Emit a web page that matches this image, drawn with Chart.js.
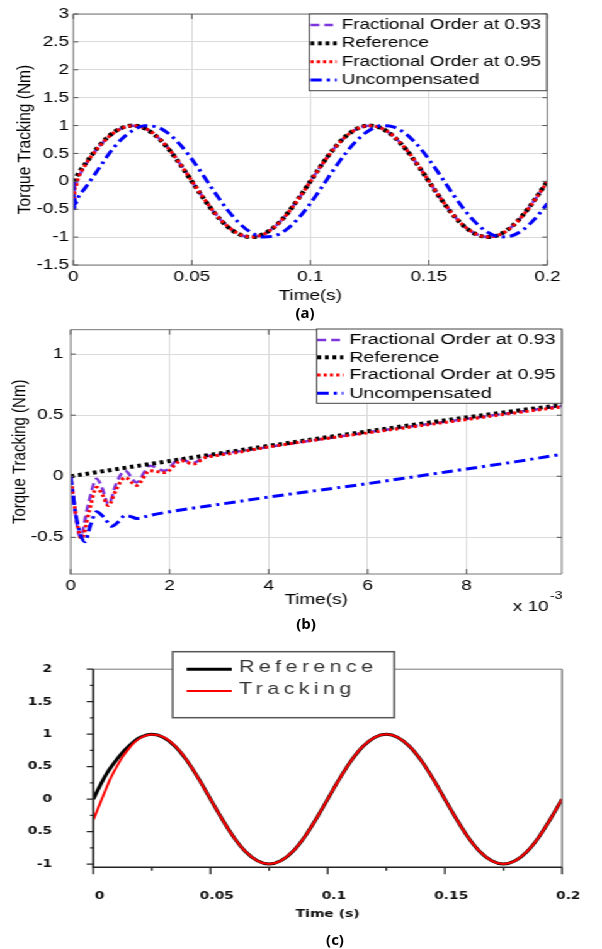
<!DOCTYPE html>
<html>
<head>
<meta charset="utf-8">
<script src="https://cdn.jsdelivr.net/npm/chart.js@4.4.0/dist/chart.umd.min.js"></script>
<style>
  html, body { margin: 0; padding: 0; background: #fff; }
  body { width: 602px; height: 949px; position: relative; overflow: hidden; }
  /* the source figure is stretched sideways, so draw narrow and widen */
  #stretch { position: absolute; left: 0; top: 0; width: 478px; height: 949px; transform: scaleX(1.2594); transform-origin: 0 0; }
  #stretch canvas { position: absolute; left: 0; }
  .cap { position: absolute; font-family: "Open Sans", "Liberation Sans", sans-serif; font-weight: 700; font-size: 15px; color: #000; transform: translate(-50%, -50%); }
</style>
</head>
<body>
<div id="stretch">
  <canvas id="chartA" width="478" height="310" style="top:0"></canvas>
  <canvas id="chartB" width="478" height="300" style="top:315px"></canvas>
  <canvas id="chartC" width="478" height="300" style="top:630px"></canvas>
</div>
<div class="cap" style="left:305px;top:312px">(a)</div>
<div class="cap" style="left:306px;top:623px">(b)</div>
<div class="cap" style="left:335px;top:939px">(c)</div>
<script>
// ---- (a) full run, time in s ----
const tA = [0, 0.0003, 0.0006, 0.001, 0.002, 0.005, 0.01, 0.015, 0.02, 0.025, 0.03, 0.035, 0.04, 0.045, 0.05,
  0.055, 0.06, 0.065, 0.07, 0.075, 0.08, 0.085, 0.09, 0.095, 0.1, 0.105, 0.11, 0.115, 0.12, 0.125, 0.13,
  0.135, 0.14, 0.145, 0.15, 0.155, 0.16, 0.165, 0.17, 0.175, 0.18, 0.185, 0.19, 0.195, 0.2];
const fo93A = [0, -0.5, -0.02, -0.05, 0.05, 0.29, 0.58, 0.8, 0.945, 0.998, 0.955, 0.815, 0.595, 0.315, 0.005,
  -0.305, -0.585, -0.805, -0.948, -0.998, -0.953, -0.813, -0.593, -0.313, -0.003, 0.307, 0.587, 0.807, 0.948, 0.998,
  0.953, 0.813, 0.593, 0.313, 0.003, -0.307, -0.587, -0.807, -0.948, -0.998, -0.953, -0.813, -0.593, -0.313, -0.003];
const refA = [0, 0.02, 0.04, 0.06, 0.13, 0.31, 0.59, 0.81, 0.95, 1, 0.95, 0.81, 0.59, 0.31, 0,
  -0.31, -0.59, -0.81, -0.95, -1, -0.95, -0.81, -0.59, -0.31, 0, 0.31, 0.59, 0.81, 0.95, 1,
  0.95, 0.81, 0.59, 0.31, 0, -0.31, -0.59, -0.81, -0.95, -1, -0.95, -0.81, -0.59, -0.31, 0];
const fo95A = [0, -0.48, -0.1, -0.1, 0.05, 0.29, 0.575, 0.8, 0.943, 0.997, 0.957, 0.818, 0.598, 0.318, 0.008,
  -0.302, -0.582, -0.802, -0.946, -0.997, -0.955, -0.816, -0.596, -0.316, -0.006, 0.304, 0.584, 0.804, 0.946, 0.997,
  0.955, 0.816, 0.596, 0.316, 0.006, -0.304, -0.584, -0.804, -0.946, -0.997, -0.955, -0.816, -0.596, -0.316, -0.006];
const uncA = [0, -0.53, -0.32, -0.4, -0.29, -0.12, 0.18, 0.49, 0.74, 0.91, 0.995, 0.978, 0.862, 0.662, 0.398,
  0.095, -0.218, -0.509, -0.75, -0.917, -0.996, -0.976, -0.861, -0.661, -0.397, -0.094, 0.218, 0.509, 0.75, 0.917,
  0.996, 0.976, 0.861, 0.661, 0.397, 0.094, -0.218, -0.509, -0.75, -0.917, -0.996, -0.976, -0.861, -0.661, -0.397];
const xTicksA = [0, 0.05, 0.1, 0.15, 0.2];
const xLabelsA = ['0', '0.05', '0.1', '0.15', '0.2'];
const yTicksA = [-1.5, -1, -0.5, 0, 0.5, 1, 1.5, 2, 2.5, 3];
const yLabelsA = ['-1.5', '-1', '-0.5', '0', '0.5', '1', '1.5', '2', '2.5', '3'];

// ---- (b) first 10 ms, time in units of 1e-3 s ----
const fo93Bt = [0, 0.1, 0.19, 0.36, 0.525, 0.64, 0.76, 0.93, 1.1, 1.33, 1.6, 1.9, 2.2, 2.48, 2.7, 3, 3.5, 4, 5, 6, 7, 8, 9, 9.92];
const fo93B = [0, -0.32, -0.5, -0.22, -0.02, -0.1, -0.23, -0.05, 0.046, -0.05, 0.087, 0.046, 0.14, 0.11, 0.16, 0.18, 0.21, 0.24, 0.3, 0.36, 0.415, 0.47, 0.525, 0.575];
const refBt = [0, 1, 2, 3, 4, 5, 6, 7, 8, 9, 9.92];
const refB = [0, 0.063, 0.125, 0.187, 0.249, 0.309, 0.368, 0.426, 0.482, 0.536, 0.584];
const fo95Bt = [0, 0.1, 0.22, 0.38, 0.525, 0.64, 0.76, 0.93, 1.1, 1.33, 1.6, 1.9, 2.24, 2.48, 2.7, 2.92, 3.3, 3.93, 5, 6, 7, 8, 9, 9.92];
const fo95B = [0, -0.3, -0.51, -0.28, -0.09, -0.15, -0.24, -0.1, -0.01, -0.075, 0.046, 0.03, 0.127, 0.1, 0.15, 0.168, 0.19, 0.235, 0.3, 0.355, 0.41, 0.465, 0.52, 0.568];
const uncBt = [0, 0.12, 0.29, 0.4, 0.525, 0.68, 0.83, 0.97, 1.1, 1.22, 1.33, 1.6, 2, 3, 4, 5, 6, 7, 8, 9, 9.92];
const uncB = [0, -0.35, -0.535, -0.4, -0.29, -0.34, -0.41, -0.37, -0.32, -0.33, -0.345, -0.32, -0.29, -0.23, -0.17, -0.115, -0.06, 0, 0.06, 0.12, 0.18];
const xTicksB = [0, 2, 4, 6, 8];
const xLabelsB = ['0', '2', '4', '6', '8'];
const yTicksB = [-0.5, 0, 0.5, 1];
const yLabelsB = ['-0.5', '0', '0.5', '1'];

// ---- (c) reference vs tracking ----
const tC = [0, 0.0025, 0.005, 0.0075, 0.01, 0.0125, 0.015, 0.0175, 0.02, 0.025, 0.03, 0.035, 0.04, 0.045, 0.05,
  0.055, 0.06, 0.065, 0.07, 0.075, 0.08, 0.085, 0.09, 0.095, 0.1, 0.105, 0.11, 0.115, 0.12, 0.125, 0.13,
  0.135, 0.14, 0.145, 0.15, 0.155, 0.16, 0.165, 0.17, 0.175, 0.18, 0.185, 0.19, 0.195, 0.2];
const refC = [0, 0.18, 0.35, 0.49, 0.61, 0.72, 0.81, 0.89, 0.95, 1, 0.95, 0.81, 0.59, 0.31, 0,
  -0.31, -0.59, -0.81, -0.95, -1, -0.95, -0.81, -0.59, -0.31, 0, 0.31, 0.59, 0.81, 0.95, 1,
  0.95, 0.81, 0.59, 0.31, 0, -0.31, -0.59, -0.81, -0.95, -1, -0.95, -0.81, -0.59, -0.31, 0];
const trackC = [-0.32, -0.1, 0.12, 0.33, 0.5, 0.65, 0.77, 0.87, 0.94, 0.995, 0.955, 0.815, 0.595, 0.31, 0,
  -0.31, -0.59, -0.81, -0.95, -1, -0.95, -0.81, -0.59, -0.31, 0, 0.31, 0.59, 0.81, 0.95, 1,
  0.95, 0.81, 0.59, 0.31, 0, -0.31, -0.59, -0.81, -0.95, -1, -0.95, -0.81, -0.59, -0.31, 0];
const xTicksC = [0, 0.05, 0.1, 0.15, 0.2];
const xLabelsC = ['0', '0.05', '0.1', '0.15', '0.2'];
const xMinorC = [0.025, 0.075, 0.125, 0.175];
const yTicksC = [-1, -0.5, 0, 0.5, 1, 1.5, 2];
const yLabelsC = ['-1', '0.5', '0', '0.5', '1', '1.5', '2'];
const yMinorC = [-0.75, -0.25, 0.25, 0.75, 1.25, 1.75];

const SANS = '"Liberation Sans", Arial, Helvetica, sans-serif';
const BOLD = '"DejaVu Sans", Verdana, sans-serif';

function xy(ts, ys) {
  return ts.map((t, i) => ({ x: t, y: ys[i] }));
}

function useTicks(values) {
  return scale => { scale.ticks = values.map(v => ({ value: v })); };
}

// draws axis box / tick marks through the chart's own scales
const frameTicks = {
  id: 'frameTicks',
  afterDraw(chart, args, o) {
    const { ctx, chartArea: a, scales } = chart;
    ctx.save();
    ctx.setLineDash([]);
    (o.sides || []).forEach(s => {
      ctx.strokeStyle = s.color;
      ctx.lineWidth = s.width;
      ctx.beginPath();
      if (s.side === 'top') { ctx.moveTo(a.left, a.top); ctx.lineTo(a.right, a.top); }
      if (s.side === 'bottom') { ctx.moveTo(a.left - 0.5, a.bottom); ctx.lineTo(a.right, a.bottom); }
      if (s.side === 'left') { ctx.moveTo(a.left, a.top); ctx.lineTo(a.left, a.bottom + 0.5); }
      if (s.side === 'right') { ctx.moveTo(a.right, a.top); ctx.lineTo(a.right, a.bottom); }
      ctx.stroke();
    });
    (o.marks || []).forEach(m => {
      const sc = scales[m.axis];
      const dir = m.out ? -1 : 1;
      ctx.strokeStyle = m.color;
      ctx.lineWidth = m.width;
      ctx.beginPath();
      m.values.forEach(v => {
        const p = sc.getPixelForValue(v);
        m.sides.forEach(side => {
          if (side === 'bottom') { ctx.moveTo(p, a.bottom); ctx.lineTo(p, a.bottom - dir * m.len); }
          if (side === 'top') { ctx.moveTo(p, a.top); ctx.lineTo(p, a.top + dir * m.len); }
          if (side === 'left') { ctx.moveTo(a.left, p); ctx.lineTo(a.left + dir * m.len, p); }
          if (side === 'right') { ctx.moveTo(a.right, p); ctx.lineTo(a.right - dir * m.len, p); }
        });
      });
      ctx.stroke();
    });
    (o.notes || []).forEach(n => {
      ctx.font = n.font;
      ctx.fillStyle = n.color || '#000';
      ctx.textBaseline = 'middle';
      ctx.textAlign = 'left';
      ctx.fillText(n.text, n.x, n.y);
    });
    ctx.restore();
  }
};

// legend box drawn inside the plot, like the source figure
const boxLegend = {
  id: 'boxLegend',
  afterDraw(chart, args, o) {
    if (!o.rows) return;
    const ctx = chart.ctx;
    ctx.save();
    ctx.fillStyle = '#fff';
    ctx.fillRect(o.x, o.y, o.w, o.h);
    ctx.strokeStyle = o.borderColor;
    ctx.lineWidth = o.borderWidth;
    ctx.strokeRect(o.x, o.y, o.w, o.h);
    chart.data.datasets.forEach((ds, i) => {
      const y = o.rows[i];
      ctx.beginPath();
      ctx.setLineDash(ds.borderDash || []);
      ctx.strokeStyle = ds.borderColor;
      ctx.lineWidth = ds.borderWidth;
      ctx.moveTo(o.lineFrom, y);
      ctx.lineTo(o.lineTo, y);
      ctx.stroke();
      ctx.setLineDash([]);
      ctx.font = o.font;
      ctx.fillStyle = o.color;
      ctx.textBaseline = 'middle';
      ctx.letterSpacing = o.letterSpacing || '0px';
      ctx.fillText(ds.label, o.textX, y + (o.textDy || 0));
    });
    ctx.restore();
  }
};

Chart.register(frameTicks, boxLegend);

function matlabScales(cfg) {
  return {
    x: {
      type: 'linear', min: cfg.xMin, max: cfg.xMax,
      afterBuildTicks: useTicks(cfg.xTicks),
      afterFit: s => { s.height = cfg.xHeight; },
      grid: { color: '#dadada', lineWidth: 1, drawTicks: false },
      border: { display: false },
      ticks: { font: { family: SANS, size: 15 }, color: '#000', padding: 3, maxRotation: 0, autoSkip: false,
        callback: (v, i) => cfg.xLabels[i] },
      title: { display: true, text: 'Time(s)', color: '#000', font: { family: SANS, size: 15 },
        padding: { top: 0, bottom: cfg.xTitlePad } }
    },
    y: {
      type: 'linear', min: cfg.yMin, max: cfg.yMax,
      afterBuildTicks: useTicks(cfg.yTicks),
      afterFit: s => { s.width = cfg.yWidth; },
      grid: { color: '#dadada', lineWidth: 1, drawTicks: false },
      border: { display: false },
      ticks: { font: { family: SANS, size: 15 }, color: '#000', padding: cfg.yPad, autoSkip: false,
        callback: (v, i) => cfg.yLabels[i] },
      title: { display: true, text: 'Torque Tracking (Nm)', color: '#000', font: { family: SANS, size: cfg.yTitleSize },
        padding: { top: cfg.yTitlePad, bottom: 0 } }
    }
  };
}

function matlabSets(d) {
  return [
    { label: 'Fractional Order at 0.93', data: d[0], borderColor: '#7d35dc', borderWidth: 2.5, borderDash: [7, 4], order: 4 },
    { label: 'Reference', data: d[1], borderColor: '#000', borderWidth: 4, borderDash: [3, 3], order: 3 },
    { label: 'Fractional Order at 0.95', data: d[2], borderColor: '#ff0000', borderWidth: 3, borderDash: [2.5, 2.5], order: 2 },
    { label: 'Uncompensated', data: d[3], borderColor: '#0000ff', borderWidth: 3, borderDash: [9, 4, 2.5, 4], order: 1 }
  ];
}

const common = {
  responsive: false,
  animation: false,
  devicePixelRatio: 1,
  elements: { point: { radius: 0 }, line: { cubicInterpolationMode: 'monotone', fill: false } }
};

function boxSides(color) {
  return ['top', 'bottom', 'left', 'right'].map(side => ({ side, color, width: 1 }));
}

new Chart(document.getElementById('chartA'), {
  type: 'line',
  data: { datasets: matlabSets([xy(tA, fo93A), xy(tA, refA), xy(tA, fo95A), xy(tA, uncA)]) },
  options: {
    ...common,
    layout: { padding: { left: 0, top: 14, right: 43.4, bottom: 0 } },
    scales: matlabScales({
      xMin: 0, xMax: 0.2, xTicks: xTicksA, xLabels: xLabelsA, xHeight: 45, xTitlePad: 5,
      yMin: -1.5, yMax: 3, yTicks: yTicksA, yLabels: yLabelsA, yWidth: 58.2, yPad: 3.4,
      yTitleSize: 15.5, yTitlePad: 10
    }),
    plugins: {
      legend: { display: false }, tooltip: { enabled: false },
      frameTicks: {
        sides: boxSides('#777'),
        marks: [
          { axis: 'x', values: xTicksA, sides: ['bottom', 'top'], len: 5, color: '#555', width: 1 },
          { axis: 'y', values: yTicksA, sides: ['left', 'right'], len: 4, color: '#555', width: 1 }
        ]
      },
      boxLegend: {
        x: 245.6, y: 14, w: 188.5, h: 76.7, borderColor: '#444', borderWidth: 1,
        rows: [25, 43.3, 61.7, 80], lineFrom: 246.5, lineTo: 267.3, textX: 271.3,
        font: '15px ' + SANS, color: '#000'
      }
    }
  }
});

new Chart(document.getElementById('chartB'), {
  type: 'line',
  data: { datasets: matlabSets([xy(fo93Bt, fo93B), xy(refBt, refB), xy(fo95Bt, fo95B), xy(uncBt, uncB)]) },
  options: {
    ...common,
    layout: { padding: { left: 0, top: 14, right: 32, bottom: 0 } },
    scales: matlabScales({
      xMin: 0, xMax: 9.92, xTicks: xTicksB, xLabels: xLabelsB, xHeight: 41, xTitlePad: 6,
      yMin: -0.8, yMax: 1.2, yTicks: yTicksB, yLabels: yLabelsB, yWidth: 56.1, yPad: 5.7,
      yTitleSize: 15, yTitlePad: 7
    }),
    plugins: {
      legend: { display: false }, tooltip: { enabled: false },
      frameTicks: {
        sides: boxSides('#777'),
        marks: [
          { axis: 'x', values: xTicksB, sides: ['bottom', 'top'], len: 5, color: '#555', width: 1 },
          { axis: 'y', values: yTicksB, sides: ['left', 'right'], len: 4, color: '#555', width: 1 }
        ],
        notes: [
          { text: 'x 10', x: 407.3, y: 292, font: '15px ' + SANS },
          { text: '-3', x: 436.8, y: 281, font: '11px ' + SANS }
        ]
      },
      boxLegend: {
        x: 251.5, y: 14, w: 194.5, h: 74.3, borderColor: '#444', borderWidth: 1,
        rows: [25, 42.3, 60, 78.3], lineFrom: 252, lineTo: 272.6, textX: 277.4,
        font: '15.5px ' + SANS, color: '#000'
      }
    }
  }
});

new Chart(document.getElementById('chartC'), {
  type: 'line',
  data: {
    datasets: [
      { label: 'Reference', data: xy(tC, refC), borderColor: '#000', borderWidth: 3, order: 2 },
      { label: 'Tracking', data: xy(tC, trackC), borderColor: '#ff0000', borderWidth: 2, order: 1 }
    ]
  },
  options: {
    ...common,
    layout: { padding: { left: 0, top: 21.7, right: 18.8, bottom: 0 } },
    scales: {
      x: {
        type: 'linear', min: 0, max: 0.2,
        afterBuildTicks: useTicks(xTicksC),
        afterFit: s => { s.height = 62.7; },
        grid: { display: false, drawTicks: false },
        border: { display: false },
        ticks: { font: { family: BOLD, size: 11, weight: 'bold' }, color: '#111', padding: 22, labelOffset: 5,
          maxRotation: 0, autoSkip: false, callback: (v, i) => xLabelsC[i] },
        title: { display: true, text: 'Time (s)', color: '#111', font: { family: BOLD, size: 11, weight: 'bold' },
          padding: { top: 0, bottom: 9.5 } }
      },
      y: {
        type: 'linear', min: -1.05, max: 2,
        afterBuildTicks: useTicks(yTicksC),
        afterFit: s => { s.width = 74.1; },
        grid: { display: false, drawTicks: false },
        border: { display: false },
        ticks: { font: { family: BOLD, size: 11, weight: 'bold' }, color: '#111', padding: 32.6, autoSkip: false,
          callback: (v, i) => yLabelsC[i] }
      }
    },
    plugins: {
      legend: { display: false }, tooltip: { enabled: false },
      frameTicks: {
        sides: [
          { side: 'top', color: '#777', width: 1 },
          { side: 'right', color: '#666', width: 1.2 },
          { side: 'left', color: '#222', width: 1.6 },
          { side: 'bottom', color: '#222', width: 1.6 }
        ],
        marks: [
          { axis: 'x', values: xTicksC, sides: ['bottom'], len: 7, out: true, color: '#222', width: 1.3 },
          { axis: 'x', values: xMinorC, sides: ['bottom'], len: 3.5, out: true, color: '#222', width: 1.3 },
          { axis: 'y', values: yTicksC, sides: ['left'], len: 5.3, out: true, color: '#222', width: 1.3 },
          { axis: 'y', values: yMinorC, sides: ['left'], len: 2.6, out: true, color: '#222', width: 1.3 }
        ]
      },
      boxLegend: {
        x: 137.1, y: 21.7, w: 176, h: 66, borderColor: '#555', borderWidth: 1.5,
        rows: [39.3, 61], lineFrom: 148.2, lineTo: 184, textX: 189.8, textDy: -1.5,
        font: '17px ' + SANS, color: '#333', letterSpacing: '3.5px'
      }
    }
  }
});
</script>
</body>
</html>
